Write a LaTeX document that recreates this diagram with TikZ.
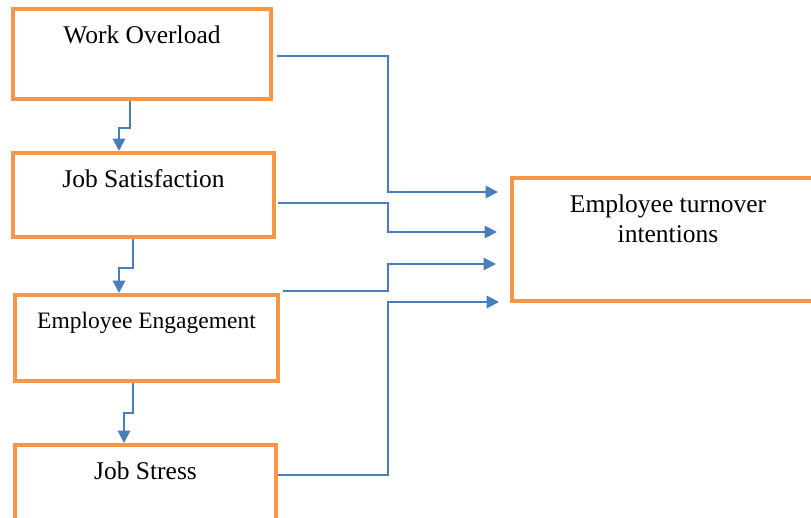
\documentclass[tikz,border=0pt]{standalone}
\usepackage{fontspec}
\setmainfont{Liberation Serif}
\usetikzlibrary{arrows.meta,calc}
\definecolor{boxorange}{RGB}{247,150,70}
\definecolor{linkblue}{RGB}{74,126,187}

\begin{document}
\begin{tikzpicture}[x=1pt, y=-1pt,
  factor/.style={draw=boxorange, line width=4pt, inner sep=0pt, text height=34pt,
    font=\fontsize{25.5}{30}\selectfont},
  link/.style={draw=linkblue, line width=2pt, -{Triangle[length=12.5pt, width=12.5pt]}}]
\clip (0,0) rectangle (811,517);

\node [factor, minimum width=258pt, text depth=56pt] (wo) at (142, 54) {Work Overload};
\node [factor, minimum width=261pt, text depth=50pt] (js) at (143.5, 195) {Job Satisfaction};
\node [factor, minimum width=263pt, text height=33pt, text depth=53pt,
  font=\fontsize{23.5}{28}\selectfont] (ee) at (146.5, 338) {Employee Engagement};
\node [factor, minimum width=261pt, text depth=56pt] (jst) at (145.5, 490) {Job Stress};

\node [factor, minimum width=312pt, text depth=89pt] (tgt) at (668, 239.5)
  {\parbox[t]{300pt}{\centering Employee turnover\\intentions}};

\coordinate (mid) at (388, 0);
\coordinate (in1) at (498, 192);
\coordinate (in2) at (497, 232);
\coordinate (in3) at (496, 264);
\coordinate (in4) at (499, 302);

\draw [link] ($(wo.south)+(-12,0)$) -- ++(0,27) -| ($(js.north)+(-24.5,0)$);
\draw [link] ($(js.south)+(-10.5,0)$) -- ++(0,29) -| ($(ee.north)+(-27.5,0)$);
\draw [link] ($(ee.south)+(-13.5,0)$) -- ++(0,30) -| ($(jst.north)+(-21.5,0)$);

\draw [link] ($(wo.east)+(4,2)$) -| (in1 -| mid) -- (in1);
\draw [link] ($(js.east)+(2,8)$) -| (in2 -| mid) -- (in2);
\draw [link] ($(ee.east)+(3,-47)$) -| (in3 -| mid) -- (in3);
\draw [link] ($(jst.east)+(0,-15)$) -| (in4 -| mid) -- (in4);

\end{tikzpicture}
\end{document}
